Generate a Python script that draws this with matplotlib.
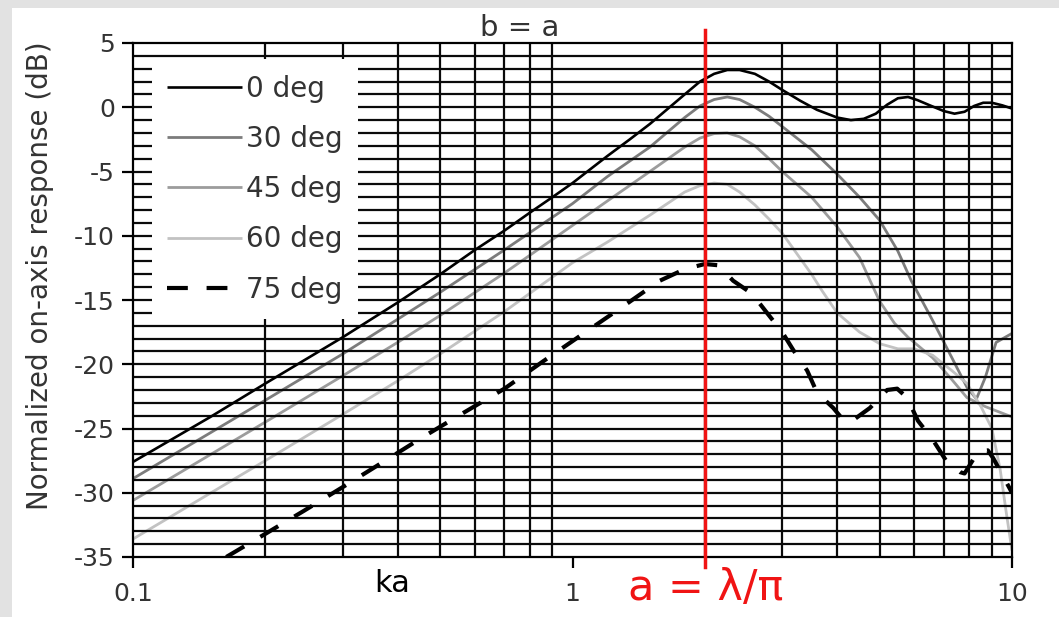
import matplotlib
matplotlib.use("Agg")
import matplotlib.pyplot as plt
from matplotlib.patches import Rectangle

plt.rcParams['font.family'] = ['DejaVu Sans']
plt.rcParams['axes.unicode_minus'] = False

# ka values and normalized on-axis response (dB) for each angle
ka_0 = [0.1, 0.15, 0.2, 0.3, 0.4, 0.5, 0.6, 0.7, 0.8, 0.9, 1.0, 1.1, 1.2, 1.35,
        1.5, 1.65, 1.8, 1.95, 2.1, 2.25, 2.4, 2.6, 2.8, 3.0, 3.3, 3.6, 4.0, 4.3,
        4.6, 4.9, 5.2, 5.5, 5.8, 6.1, 6.5, 7.0, 7.4, 7.8, 8.2, 8.6, 9.0, 9.5, 10.0]
db_0 = [-27.6, -24.1, -21.5, -17.9, -15.2, -13.0, -11.1, -9.6, -8.2, -7.0, -5.9,
        -4.8, -3.8, -2.5, -1.3, -0.1, 1.0, 2.0, 2.6, 2.9, 2.9, 2.6, 2.0, 1.35, 0.5,
        -0.2, -0.8, -1.0, -0.9, -0.5, 0.2, 0.7, 0.8, 0.55, 0.15, -0.3, -0.5,
        -0.35, 0.1, 0.35, 0.35, 0.15, -0.1]

ka_30 = [0.1, 0.2, 0.3, 0.4, 0.5, 0.7, 1.0, 1.2, 1.5, 1.8, 1.95, 2.1, 2.25, 2.4,
         2.6, 2.8, 3.0, 3.5, 4.0, 4.5, 5.0, 5.5, 5.9, 6.6, 7.3, 7.9, 8.3, 8.7,
         9.2, 10.0]
db_30 = [-28.9, -22.8, -19.2, -16.5, -14.4, -11.1, -7.5, -5.4, -3.1, -0.8, 0.1,
         0.6, 0.8, 0.6, 0.0, -0.7, -1.5, -3.3, -5.2, -7.0, -8.8, -11.2, -13.5,
         -16.6, -19.5, -21.8, -22.7, -21.0, -18.3, -17.6]

ka_45 = [0.1, 0.2, 0.3, 0.4, 0.5, 0.7, 1.0, 1.2, 1.5, 1.8, 1.95, 2.1, 2.25, 2.4,
         2.6, 2.8, 3.0, 3.5, 4.0, 4.5, 4.8, 5.0, 5.4, 5.8, 6.6, 7.3, 7.9, 8.7, 10.0]
db_45 = [-30.6, -24.5, -20.9, -18.3, -16.2, -12.9, -9.2, -7.3, -5.0, -3.1, -2.4,
         -2.05, -2.0, -2.3, -3.0, -4.0, -5.0, -7.0, -9.3, -11.7, -13.8, -15.1,
         -16.8, -17.9, -19.5, -21.2, -22.6, -23.3, -24.1]

ka_60 = [0.1, 0.2, 0.3, 0.4, 0.5, 0.7, 1.0, 1.2, 1.5, 1.8, 1.95, 2.1, 2.25, 2.4,
         2.6, 2.8, 3.0, 3.5, 3.7, 4.0, 4.5, 5.0, 5.5, 6.0, 6.6, 7.3, 7.9, 8.5,
         9.0, 9.4, 9.7, 10.0]
db_60 = [-33.6, -27.5, -23.9, -21.3, -19.2, -15.9, -12.1, -10.5, -8.4, -6.6, -6.1,
         -5.9, -6.0, -6.6, -7.6, -8.7, -9.8, -13.0, -14.3, -16.0, -17.5, -18.4,
         -18.8, -18.8, -19.3, -20.5, -21.5, -23.3, -25.0, -28.2, -31.5, -34.5]

ka_75 = [0.163, 0.2, 0.245, 0.302, 0.371, 0.46, 0.57, 0.70, 0.855, 1.05, 1.29, 1.58,
         1.8, 2.0, 2.15, 2.32, 2.56, 2.77, 3.0, 3.18, 3.42, 3.6, 3.92, 4.17, 4.33,
         4.75, 5.2, 5.48, 5.77, 6.11, 6.61, 7.11, 7.62, 7.8, 8.37, 8.81, 9.06,
         9.75, 10.0]
db_75 = [-35.0, -33.2, -31.4, -29.5, -27.6, -25.6, -23.7, -21.9, -19.8, -17.7, -15.6,
         -13.5, -12.6, -12.2, -12.3, -13.5, -14.5, -16.0, -17.5, -18.9, -20.5,
         -22.2, -23.4, -24.5, -24.4, -23.4, -22.0, -21.9, -22.6, -24.4, -25.9,
         -27.6, -28.4, -28.5, -26.8, -26.7, -27.3, -29.3, -30.0]

series = [
    ("0 deg", ka_0, db_0, dict(color="#000000", lw=1.9, zorder=4)),
    ("30 deg", ka_30, db_30, dict(color="#7c7c7c", lw=2.0, zorder=1)),
    ("45 deg", ka_45, db_45, dict(color="#9c9c9c", lw=2.0, zorder=1)),
    ("60 deg", ka_60, db_60, dict(color="#c2c2c2", lw=2.0, zorder=1)),
    ("75 deg", ka_75, db_75, dict(color="#000000", lw=3.0, zorder=4,
                                  linestyle=(0, (5, 4.5)))),
]

ka_marker = 2.0  # ka = 2  <=>  a = lambda/pi

fig = plt.figure(figsize=(10.59, 6.17), dpi=100)
fig.patch.set_facecolor("#e2e2e2")
fig.patches.append(Rectangle((12 / 1059, 0), 1, 1 - 8 / 617,
                             transform=fig.transFigure, facecolor="white",
                             edgecolor="none", zorder=-10))

ax = fig.add_axes([133 / 1059, 60 / 617, 879 / 1059, 514 / 617])
ax.set_zorder(1)
ax.set_xscale("log")
ax.set_xlim(0.1, 10)
ax.set_ylim(-35, 5)

for label, k, d, style in series:
    ax.plot(k, d, label=label, solid_capstyle="butt", **style)

# dense grid: every 1 dB and every log-decade step
for y in range(-34, 5):
    ax.axhline(y, color="#0a0a0a", lw=1.6, zorder=2)
for dec in (0.1, 1.0):
    for m in range(2, 10):
        ax.axvline(dec * m, color="#0a0a0a", lw=1.6, zorder=2)

for s in ax.spines.values():
    s.set_linewidth(1.6)
    s.set_zorder(3)

ax.set_yticks(range(-35, 6, 5))
ax.set_xticks([0.1, 1, 10])
ax.set_xticklabels(["0.1", "1", "10"])
ax.xaxis.set_minor_locator(matplotlib.ticker.NullLocator())
ax.tick_params(axis="both", which="major", direction="out", length=8, width=1.6,
               labelsize=18, colors="#000000", labelcolor="#333333")
ax.tick_params(axis="x", pad=10)
ax.tick_params(axis="y", pad=5)

ax.plot([ka_marker, ka_marker], [-35.8, 6.0], color="#f01414", lw=2.5,
        zorder=6, clip_on=False)

leg = ax.legend(loc="upper left", bbox_to_anchor=(0.0216, 0.968), fontsize=20,
                frameon=True, fancybox=False, framealpha=1, edgecolor="none",
                handlelength=2.7, handletextpad=0.15, labelspacing=0.8,
                borderpad=0.55, borderaxespad=0)
leg.get_frame().set_facecolor("white")
leg.set_zorder(5)
for t in leg.get_texts():
    t.set_color("#333333")

fig.text(40 / 1059, 1 - 276 / 617, "Normalized on-axis response (dB)",
         rotation=90, ha="center", va="center", fontsize=20, color="#333333")
fig.text(520 / 1059, 1 - 28 / 617, "b = a", ha="center", va="center",
         fontsize=21, color="#333333")
fig.text(392 / 1059, 1 - 583 / 617, "ka", ha="center", va="center",
         fontsize=22, color="#000000")
fig.text(706 / 1059, 1 - 588 / 617, "a = \u03bb/\u03c0", ha="center",
         va="center", fontsize=31, color="#f01414")

fig.savefig("out.png", dpi=100, facecolor=fig.get_facecolor())
